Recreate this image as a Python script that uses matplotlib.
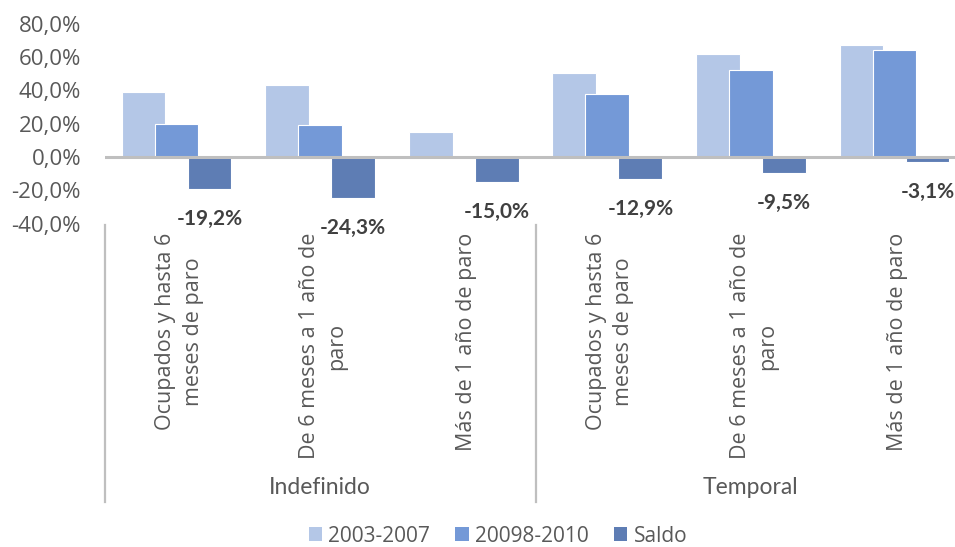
import numpy as np
import matplotlib
matplotlib.use("Agg")
import matplotlib.pyplot as plt
import matplotlib.transforms as mtransforms
from matplotlib.patches import Patch

# Data
categories = [
    "Ocupados y hasta 6\nmeses de paro",
    "De 6 meses a 1 año de\nparo",
    "Más de 1 año de paro",
    "Ocupados y hasta 6\nmeses de paro",
    "De 6 meses a 1 año de\nparo",
    "Más de 1 año de paro",
]
groups = ["Indefinido", "Temporal"]
periodo_1 = [38.8, 43.5, 15.0, 50.7, 61.8, 67.2]
periodo_2 = [19.6, 19.2, 0.0, 37.8, 52.3, 64.1]
saldo = [-19.2, -24.3, -15.0, -12.9, -9.5, -3.1]
series_names = ["2003-2007", "20098-2010", "Saldo"]
yticks = [-40, -20, 0, 20, 40, 60, 80]

colors = ["#B4C7E7", "#7499D7", "#5E7DB4"]
grey_txt = "#595959"
line_grey = "#BFBFBF"

fig = plt.figure(figsize=(9.55, 5.47), dpi=100)
ax = fig.add_axes([104.7 / 955, 323.3 / 547, 861.6 / 955, 200 / 547])

x = np.arange(len(categories))
width = 0.306
step = 0.23
for i, vals in enumerate([periodo_1, periodo_2, saldo]):
    ax.bar(x + (i - 1) * step, vals, width, color=colors[i],
           edgecolor="white", linewidth=0.8, zorder=2 + i)

# value labels under the saldo bars
for xi, v in zip(x, saldo):
    ax.annotate(f"{v:.1f}%".replace(".", ","), (xi + step, v),
                xytext=(0, -30), textcoords="offset pixels",
                ha="center", va="center", fontsize=15, fontweight="bold",
                family="Lato", color="#404040", zorder=6)

ax.axhline(0, color=line_grey, lw=2.2, zorder=6)
ax.set_xlim(-0.5, 5.5)
ax.set_ylim(-40, 80)
ax.set_yticks(yticks)
ax.set_yticklabels([f"{t:.1f}%".replace(".", ",") for t in yticks],
                   family="Open Sans", fontsize=16, color=grey_txt)
ax.set_xticks([])
ax.tick_params(axis="y", length=0, pad=17)
for s in ax.spines.values():
    s.set_visible(False)

# two-level category axis
trans = mtransforms.blended_transform_factory(ax.transData, fig.transFigure)
for xi, lab in zip(x, categories):
    ax.text(xi + 0.02, 1 - 233 / 547, lab, transform=trans, rotation=90,
            rotation_mode="anchor", ha="right", va="center",
            multialignment="center", linespacing=1.4,
            family="Open Sans", fontsize=15.5, color=grey_txt, clip_on=False)
for k, g in enumerate(groups):
    ax.text(3 * k + 1, 1 - 488 / 547, g, transform=trans,
            ha="center", va="center", family="Lato", fontsize=16.5,
            color=grey_txt, clip_on=False)
for sx in [-0.5, 2.5, 5.5]:
    ax.plot([sx, sx], [1 - 225 / 547, 1 - 502 / 547], transform=trans,
            color=line_grey, lw=1.6, clip_on=False)

handles = [Patch(facecolor=c, edgecolor="none") for c in colors]
fig.legend(handles, series_names, loc="center", ncol=3,
           bbox_to_anchor=(498 / 955, 1 - 536 / 547), frameon=False,
           handlelength=0.65, handleheight=0.65, handletextpad=0.3,
           columnspacing=1.2, prop={"family": "Open Sans", "size": 15},
           labelcolor=grey_txt)

fig.savefig("out.png", dpi=100)
